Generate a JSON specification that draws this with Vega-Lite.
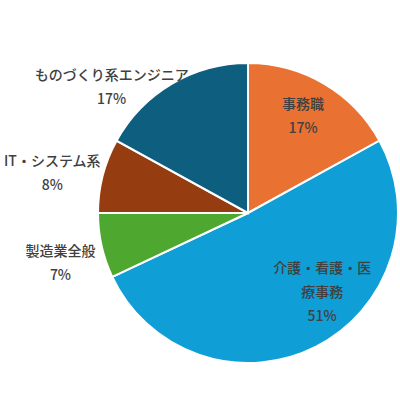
{
  "$schema": "https://vega.github.io/schema/vega-lite/v6.json",
  "autosize": "none",
  "width": 300,
  "height": 300,
  "padding": {"left": 98, "top": 63, "right": 2, "bottom": 37},
  "background": "white",
  "data": {
    "values": [
      {"category": "事務職", "value": 17, "label": "事務職\n17%"},
      {"category": "介護・看護・医療事務", "value": 51, "label": "介護・看護・医\n療事務\n51%"},
      {"category": "製造業全般", "value": 7, "label": "製造業全般\n7%"},
      {"category": "IT・システム系", "value": 8, "label": "IT・システム系\n8%"},
      {"category": "ものづくり系エンジニア", "value": 17, "label": "ものづくり系エンジニア\n17%"}
    ]
  },
  "transform": [{"window": [{"op": "row_number", "as": "idx"}]}],
  "encoding": {
    "theta": {"field": "value", "type": "quantitative", "stack": true},
    "order": {"field": "idx", "type": "quantitative"}
  },
  "config": {
    "view": {"stroke": null},
    "text": {"font": "Noto Sans CJK JP", "fontSize": 14, "fontWeight": 500, "fill": "#404040", "lineBreak": "\n", "lineHeight": 24, "align": "center", "baseline": "middle"}
  },
  "layer": [
    {
      "mark": {"type": "arc", "stroke": "white", "strokeWidth": 2},
      "encoding": {
        "color": {
          "field": "category",
          "type": "nominal",
          "legend": null,
          "scale": {
            "domain": ["事務職", "介護・看護・医療事務", "製造業全般", "IT・システム系", "ものづくり系エンジニア"],
            "range": ["#E97132", "#0F9ED5", "#4EA72E", "#963C11", "#0E5E80"]
          }
        }
      }
    },
    {
      "mark": {"type": "text", "radius": 112, "dx": -2, "dy": -12},
      "encoding": {
        "text": {"field": "label"},
        "opacity": {"condition": {"test": "datum.category === '事務職'", "value": 1}, "value": 0}
      }
    },
    {
      "mark": {"type": "text", "radius": 95, "dx": 31, "dy": -29},
      "encoding": {
        "text": {"field": "label"},
        "opacity": {"condition": {"test": "datum.category === '介護・看護・医療事務'", "value": 1}, "value": 0}
      }
    },
    {
      "mark": {"type": "text", "radius": 185, "dx": -7, "dy": -1},
      "encoding": {
        "text": {"field": "label"},
        "opacity": {"condition": {"test": "datum.category === '製造業全般'", "value": 1}, "value": 0}
      }
    },
    {
      "mark": {"type": "text", "radius": 200, "dx": -2, "dy": -1},
      "encoding": {
        "text": {"field": "label"},
        "opacity": {"condition": {"test": "datum.category === 'IT・システム系'", "value": 1}, "value": 0}
      }
    },
    {
      "mark": {"type": "text", "radius": 150, "dx": -60, "dy": -8},
      "encoding": {
        "text": {"field": "label"},
        "opacity": {"condition": {"test": "datum.category === 'ものづくり系エンジニア'", "value": 1}, "value": 0}
      }
    }
  ]
}
